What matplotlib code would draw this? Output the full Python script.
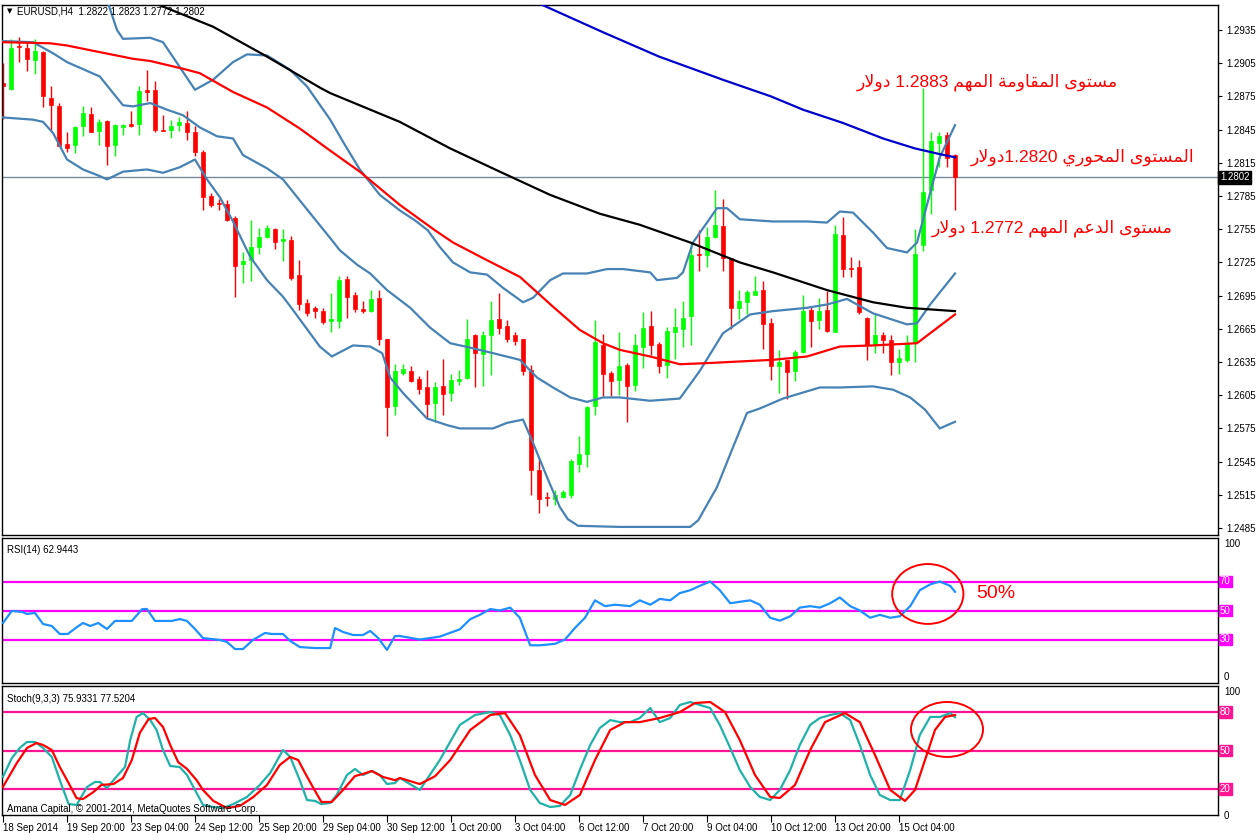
import re
import matplotlib
matplotlib.use("Agg")
import matplotlib.pyplot as plt
import matplotlib.transforms as mtransforms
from matplotlib.patches import Ellipse

plt.rcParams['font.family'] = ['Liberation Sans', 'DejaVu Sans']

# EURUSD H4 candles, 18 Sep 12:00 -> 16 Oct 08:00
opens = [1.2887, 1.2882, 1.2921, 1.2919, 1.2908, 1.2915, 1.2874, 1.2866, 1.2832, 1.2831,
         1.2848, 1.2859, 1.2844, 1.2853, 1.2831, 1.2847, 1.2850, 1.2850, 1.2881, 1.2881,
         1.2845, 1.2845, 1.2849, 1.2851, 1.2843, 1.2825, 1.2785, 1.2779, 1.2778, 1.2765,
         1.2724, 1.2727, 1.2739, 1.2748, 1.2755, 1.2744, 1.2745, 1.2714, 1.2688, 1.2684,
         1.2681, 1.2672, 1.2672, 1.2710, 1.2696, 1.2683, 1.2681, 1.2693, 1.2656, 1.2595,
         1.2625, 1.2627, 1.2620, 1.2612, 1.2598, 1.2613, 1.2607, 1.2618, 1.2621, 1.2659,
         1.2642, 1.2659, 1.2674, 1.2668, 1.2659, 1.2656, 1.2628, 1.2537, 1.2513, 1.2511,
         1.2513, 1.2515, 1.2543, 1.2552, 1.2595, 1.2650, 1.2625, 1.2619, 1.2632, 1.2614,
         1.2649, 1.2668, 1.2651, 1.2632, 1.2662, 1.2665, 1.2677, 1.2733, 1.2732, 1.2748,
         1.2758, 1.2729, 1.2684, 1.2689, 1.2696, 1.2700, 1.2670, 1.2631, 1.2637, 1.2627,
         1.2644, 1.2682, 1.2673, 1.2682, 1.2662, 1.2750, 1.2720, 1.2721, 1.2675, 1.2651,
         1.2659, 1.2655, 1.2635, 1.2637, 1.2652, 1.2741, 1.2790, 1.2833, 1.2840, 1.2822]
highs = [1.2905, 1.2927, 1.2929, 1.2925, 1.2927, 1.2916, 1.2884, 1.2869, 1.2843, 1.2848,
         1.2866, 1.2865, 1.2855, 1.2854, 1.2850, 1.2850, 1.2862, 1.2884, 1.2899, 1.2889,
         1.2858, 1.2854, 1.2856, 1.2862, 1.2848, 1.2827, 1.2788, 1.2782, 1.2781, 1.2767,
         1.2734, 1.2763, 1.2756, 1.2759, 1.2756, 1.2755, 1.2749, 1.2727, 1.2692, 1.2686,
         1.2684, 1.2697, 1.2713, 1.2713, 1.2698, 1.2690, 1.2700, 1.2700, 1.2656, 1.2633,
         1.2633, 1.2631, 1.2622, 1.2628, 1.2617, 1.2638, 1.2624, 1.2628, 1.2674, 1.2660,
         1.2663, 1.2690, 1.2697, 1.2673, 1.2662, 1.2656, 1.2632, 1.2547, 1.2518, 1.2519,
         1.2519, 1.2547, 1.2568, 1.2595, 1.2673, 1.2660, 1.2627, 1.2662, 1.2634, 1.2660,
         1.2680, 1.2681, 1.2653, 1.2667, 1.2684, 1.2690, 1.2743, 1.2754, 1.2757, 1.2790,
         1.2782, 1.2729, 1.2700, 1.2700, 1.2713, 1.2708, 1.2675, 1.2646, 1.2637, 1.2646,
         1.2696, 1.2686, 1.2693, 1.2699, 1.2759, 1.2766, 1.2730, 1.2727, 1.2676, 1.2678,
         1.2662, 1.2659, 1.2647, 1.2659, 1.2755, 1.2883, 1.2843, 1.2843, 1.2843, 1.2823]
lows = [1.2855, 1.2881, 1.2906, 1.2898, 1.2895, 1.2865, 1.2843, 1.2830, 1.2825, 1.2824,
        1.2839, 1.2843, 1.2831, 1.2813, 1.2821, 1.2840, 1.2847, 1.2840, 1.2871, 1.2843,
        1.2844, 1.2837, 1.2844, 1.2836, 1.2821, 1.2772, 1.2775, 1.2772, 1.2762, 1.2694,
        1.2706, 1.2708, 1.2733, 1.2747, 1.2737, 1.2726, 1.2709, 1.2682, 1.2677, 1.2675,
        1.2669, 1.2662, 1.2666, 1.2675, 1.2680, 1.2679, 1.2680, 1.2650, 1.2568, 1.2587,
        1.2623, 1.2617, 1.2606, 1.2584, 1.2581, 1.2587, 1.2600, 1.2614, 1.2620, 1.2612,
        1.2613, 1.2623, 1.2660, 1.2653, 1.2650, 1.2623, 1.2515, 1.2499, 1.2505, 1.2506,
        1.2512, 1.2512, 1.2536, 1.2540, 1.2587, 1.2604, 1.2604, 1.2605, 1.2581, 1.2609,
        1.2630, 1.2641, 1.2625, 1.2621, 1.2638, 1.2649, 1.2650, 1.2717, 1.2721, 1.2747,
        1.2717, 1.2665, 1.2674, 1.2678, 1.2696, 1.2647, 1.2619, 1.2607, 1.2602, 1.2618,
        1.2643, 1.2649, 1.2665, 1.2662, 1.2662, 1.2712, 1.2712, 1.2678, 1.2637, 1.2643,
        1.2643, 1.2623, 1.2624, 1.2635, 1.2635, 1.2735, 1.2769, 1.2811, 1.2811, 1.2772]
closes = [1.2884, 1.2919, 1.2920, 1.2909, 1.2916, 1.2875, 1.2867, 1.2830, 1.2828, 1.2847,
          1.2860, 1.2843, 1.2852, 1.2830, 1.2849, 1.2849, 1.2848, 1.2880, 1.2879, 1.2845,
          1.2844, 1.2848, 1.2852, 1.2843, 1.2825, 1.2784, 1.2777, 1.2778, 1.2763, 1.2722,
          1.2726, 1.2739, 1.2748, 1.2756, 1.2743, 1.2746, 1.2711, 1.2687, 1.2679, 1.2681,
          1.2671, 1.2674, 1.2709, 1.2694, 1.2683, 1.2681, 1.2692, 1.2656, 1.2594, 1.2627,
          1.2629, 1.2618, 1.2611, 1.2597, 1.2612, 1.2606, 1.2619, 1.2620, 1.2656, 1.2643,
          1.2659, 1.2673, 1.2666, 1.2656, 1.2654, 1.2627, 1.2537, 1.2511, 1.2512, 1.2515,
          1.2518, 1.2546, 1.2552, 1.2594, 1.2653, 1.2624, 1.2618, 1.2631, 1.2613, 1.2650,
          1.2666, 1.2650, 1.2631, 1.2663, 1.2667, 1.2675, 1.2732, 1.2732, 1.2748, 1.2759,
          1.2729, 1.2684, 1.2690, 1.2698, 1.2699, 1.2669, 1.2631, 1.2635, 1.2626, 1.2644,
          1.2681, 1.2672, 1.2681, 1.2663, 1.2751, 1.2719, 1.2719, 1.2680, 1.2650, 1.2659,
          1.2655, 1.2635, 1.2639, 1.2651, 1.2733, 1.2789, 1.2835, 1.2839, 1.2819, 1.2802]

# indicator lines: (bar index, value)
ma_blue = [(62, 1.2980), (67, 1.2959), (75, 1.2933), (82, 1.2911), (90, 1.2890), (96, 1.2875),
           (100, 1.2863), (105, 1.2851), (110, 1.2837), (114, 1.2828), (117, 1.2823), (119, 1.2820)]
ma_black = [(12, 1.2975), (18, 1.2962), (26.25, 1.2938), (32.75, 1.2912), (39.6, 1.2883), (40.9, 1.2878),
            (49.6, 1.2852), (55.9, 1.2828), (62.1, 1.2807), (68.4, 1.2786), (74.6, 1.2769), (79.6, 1.2759),
            (85.9, 1.2743), (92.1, 1.2725), (96.25, 1.2716), (103, 1.2700), (108.75, 1.2689), (113, 1.2684),
            (119, 1.2681)]
ma_red = [(0, 1.2924), (5.9, 1.2923), (8, 1.2921), (12.1, 1.2915), (16.25, 1.2909), (18.4, 1.2907),
          (22.5, 1.2900), (24.6, 1.2896), (28.75, 1.2879), (33, 1.2865), (37.1, 1.2846), (40.9, 1.2826),
          (44.6, 1.2807), (49.6, 1.2777), (54, 1.2754), (56.25, 1.2743), (60.5, 1.2727), (64.6, 1.2712),
          (68.75, 1.2685), (72.1, 1.2664), (75, 1.2652), (77.1, 1.2646), (80.9, 1.2640), (84.6, 1.2633),
          (88, 1.2634), (96.25, 1.2637), (100.5, 1.2640), (104.6, 1.2649), (108.75, 1.2650),
          (114.25, 1.2652), (119, 1.2678)]
bb_upper = [(11, 1.2998), (13, 1.2962), (14.25, 1.2935), (15, 1.2927), (18.4, 1.2928), (20, 1.2924),
            (24, 1.2881), (26.25, 1.2890), (28.75, 1.2906), (30.5, 1.2913), (33, 1.2912), (35.9, 1.2899),
            (38, 1.2884), (40.9, 1.2854), (42.75, 1.2831), (44.6, 1.2809), (47.1, 1.2786), (49.6, 1.2772),
            (51.5, 1.2763), (53.1, 1.2754), (54.6, 1.2739), (56.25, 1.2725), (58.4, 1.2716), (60.5, 1.2714),
            (62.5, 1.2702), (65, 1.2689), (66.25, 1.2693), (68.4, 1.2709), (70, 1.2715), (73, 1.2715),
            (75.5, 1.2719), (77.5, 1.2719), (80.9, 1.2716), (81.75, 1.2709), (84.25, 1.2711), (85, 1.2716),
            (86.25, 1.2743), (88, 1.2761), (89.25, 1.2774), (90.5, 1.2774), (92.1, 1.2764), (96.25, 1.2762),
            (100.5, 1.2762), (103, 1.2761), (104.6, 1.2771), (106.25, 1.2770), (108.75, 1.2752),
            (110.5, 1.2738), (113, 1.2734), (114.25, 1.2743), (115.9, 1.2788), (117.1, 1.2820), (119, 1.2849)]
bb_middle = [(0, 1.2925), (3.75, 1.2924), (6.25, 1.2914), (8, 1.2906), (12.1, 1.2893), (15, 1.2867),
             (16.25, 1.2866), (18.4, 1.2869), (20.5, 1.2863), (22.5, 1.2858), (24.6, 1.2847), (26.75, 1.2839),
             (28.75, 1.2837), (30, 1.2822), (33, 1.2810), (35, 1.2800), (37.1, 1.2781), (40.9, 1.2747),
             (42.1, 1.2736), (44.25, 1.2723), (45.9, 1.2715), (48, 1.2700), (50.9, 1.2684), (53.4, 1.2666),
             (55.9, 1.2652), (58.4, 1.2648), (61.25, 1.2643), (64.6, 1.2637), (66.75, 1.2621), (68.75, 1.2612),
             (70.9, 1.2603), (73, 1.2599), (75, 1.2603), (77.1, 1.2603), (80.9, 1.2600), (84.6, 1.2602),
             (87.1, 1.2627), (90, 1.2661), (93.4, 1.2678), (96.25, 1.2681), (100.5, 1.2684), (103, 1.2687),
             (105.5, 1.2692), (108.75, 1.2679), (113, 1.2669), (114.25, 1.2670), (115.9, 1.2687), (119, 1.2715)]
bb_lower = [(0, 1.2856), (3.75, 1.2854), (5, 1.2852), (6.25, 1.2842), (8, 1.2818), (10, 1.2809),
            (12.1, 1.2803), (13, 1.2800), (15, 1.2807), (18, 1.2809), (20, 1.2806), (22.1, 1.2811),
            (24, 1.2818), (25.5, 1.2800), (27.1, 1.2784), (28.75, 1.2762), (30.9, 1.2730), (33, 1.2709),
            (35, 1.2694), (36.25, 1.2682), (39.6, 1.2649), (41.1, 1.2640), (43.75, 1.2650), (45.9, 1.2649),
            (47.4, 1.2643), (48.4, 1.2621), (50, 1.2607), (53, 1.2584), (55.5, 1.2578), (57.1, 1.2575),
            (61.25, 1.2575), (63, 1.2580), (65, 1.2583), (66.25, 1.2562), (68, 1.2531), (69.6, 1.2504),
            (70.6, 1.2493), (71.9, 1.2487), (77.1, 1.2486), (85.9, 1.2486), (86.9, 1.2492), (89.25, 1.2522),
            (91.25, 1.2558), (93, 1.2589), (94.6, 1.2593), (97.5, 1.2602), (102.1, 1.2612), (104.6, 1.2612),
            (108.75, 1.2613), (111.25, 1.2610), (113.4, 1.2603), (115.25, 1.2592), (117.1, 1.2575),
            (119, 1.2581)]

rsi = [(0, 41.4), (1.1, 49.7), (2.4, 49), (3, 47.6), (4, 48.3), (5, 40.7), (6.1, 39.3), (7.1, 33.8),
       (8.1, 33.8), (9.25, 38.6), (10, 41.4), (10.9, 39.3), (11.9, 41.4), (13, 37.2), (14, 42.8),
       (16.1, 42.8), (17.4, 51), (18, 51), (19, 42.8), (21.1, 42.8), (22.1, 44.1), (23, 42.8), (24, 37.2),
       (25, 31), (27.1, 29.7), (28, 28.3), (29, 23.4), (30, 23.4), (31.25, 29.7), (32.75, 34.5),
       (33.6, 33.8), (35, 33.8), (35.9, 29), (37.1, 24.8), (39, 24.1), (40.9, 24.1), (41.5, 37.9),
       (42.5, 35.2), (43.75, 33.1), (45, 33.1), (45.9, 35.9), (46.9, 31), (48, 22.8), (49, 32.4),
       (49.6, 32.4), (52.1, 30), (54.6, 32), (57.1, 37), (58.4, 44), (59.6, 47), (60.9, 51), (62.1, 50),
       (63.4, 52), (64.6, 45), (65.9, 26), (67.1, 26), (69, 27), (70.25, 30), (71.5, 38), (72.75, 45),
       (74, 57), (75.25, 53), (76.5, 54), (78.4, 53), (79.6, 57), (80.9, 54), (82.1, 58), (83.4, 57),
       (84.6, 62), (85.9, 64), (87.1, 67), (88.4, 70), (89.6, 64), (90.9, 55), (92.1, 56), (93.4, 57),
       (94.6, 54), (95.9, 45), (97.1, 43), (98.4, 46), (99.6, 52), (100.9, 53), (102.1, 52), (103.4, 55),
       (104.6, 59), (105.9, 53), (107.1, 50), (108.4, 45), (109.6, 47), (110.9, 45), (112.1, 46),
       (113.4, 53), (114.6, 64), (115.9, 68), (117.1, 70), (118.4, 67), (119, 62.9)]

stoch_main = [(0, 29.7), (1.1, 44), (2.1, 52), (3, 56.6), (4, 56.6), (5, 52), (6.1, 45), (7.1, 27),
              (8.2, 8.5), (9.2, 7.8), (10.5, 21.7), (11.5, 25.6), (12.1, 25.6), (13, 20.9), (14, 28.4),
              (15.25, 37.2), (15.9, 58), (16.7, 76), (17.5, 79), (18.4, 73.6), (19.2, 65.9), (20, 50.4),
              (20.9, 38), (22.1, 37.2), (23, 31), (24, 19.4), (25, 7.8), (26.3, 6.2), (27.5, 5.4),
              (28.8, 8.5), (30.5, 14), (32.1, 23.3), (33.4, 32.6), (35, 50.4), (35.9, 45), (37.1, 27),
              (38, 11.6), (39, 10.9), (39.8, 8.5), (40.9, 9.3), (41.7, 15.5), (43, 31), (44, 35.7), (45, 31),
              (46.1, 34.1), (47.1, 31), (48, 24), (49, 24.8), (49.6, 28.7), (52.1, 19.4), (54.6, 42.6),
              (57.1, 69.8), (59, 77.5), (60.9, 79.8), (62.1, 77.5), (63.4, 62), (64.6, 42.6), (65.9, 19.4),
              (67.1, 9.3), (68.4, 6.2), (69.6, 7), (70.9, 15.5), (72.1, 34.9), (73.4, 54.3), (74.6, 67.4),
              (75.9, 73.6), (77.1, 72), (78.4, 72), (79.6, 75.2), (80.9, 82.9), (82.1, 72), (83.4, 75.2),
              (84.6, 85.3), (85.9, 87.6), (87.1, 85.3), (88.4, 82.9), (89.6, 69.8), (90.9, 52), (92.1, 34.9),
              (93.4, 21.7), (94.6, 14), (95.9, 11.6), (97.1, 19.4), (98.4, 34.9), (99.6, 54.3), (100.9, 69.8),
              (102.1, 75.2), (103.4, 77.5), (104.6, 79), (105.9, 73.6), (107.1, 54.3), (108.4, 31),
              (109.6, 15.5), (110.9, 11.6), (112.1, 11.6), (113.4, 34.9), (114.6, 62), (115.9, 76),
              (117.1, 76), (118.4, 79), (119, 75.9)]
stoch_signal = [(0, 21.9), (1.7, 40), (3, 52), (4.2, 55.8), (5, 54.3), (6.1, 50.4), (7.1, 37.2), (8.2, 24.8),
                (9.2, 13), (10, 12.4), (11.3, 17.8), (12.3, 23.3), (13.8, 24), (15, 28.7), (16.1, 42.6),
                (17.1, 63.6), (18.2, 74.4), (19, 75.2), (20, 68.2), (20.9, 54.3), (21.9, 41), (23, 35.7),
                (24.2, 27), (25, 19.4), (26.3, 10.9), (28, 5.4), (29.6, 7), (31.3, 14), (33, 23.3),
                (34.6, 38.8), (35.9, 45), (36.9, 42.6), (37.75, 32.6), (38.8, 20.9), (39.8, 10.1), (41.1, 10.1),
                (42.5, 19.4), (44, 30.2), (45, 31.8), (46.1, 34.1), (47.5, 29.5), (49, 27), (49.6, 28.7),
                (52.1, 24), (54, 30), (55.9, 42.6), (58.4, 65.9), (60.9, 77.5), (62.75, 79), (64.6, 62),
                (66.5, 31), (68.4, 11.6), (70.25, 7.8), (72.1, 15.5), (74, 42.6), (75.9, 65.9), (77.75, 72),
                (79.6, 72), (82.1, 75.2), (84.6, 79.8), (86.5, 86.8), (88.4, 87.6), (90.25, 79.8), (92.1, 58.1),
                (94, 31), (95.9, 14), (97.1, 13.2), (99, 23.3), (100.9, 50.4), (102.75, 72), (105.25, 79),
                (107.1, 72), (109, 46.5), (110.9, 19.4), (112.75, 10.9), (114, 19.4), (115.25, 42.6),
                (116.5, 65.9), (117.75, 76), (119, 77.5)]

price_ticks = [1.2935, 1.2905, 1.2875, 1.2845, 1.2815, 1.2785, 1.2755, 1.2725, 1.2695, 1.2665,
               1.2635, 1.2605, 1.2575, 1.2545, 1.2515, 1.2485]
date_ticks = [0, 8, 16, 24, 32, 40, 48, 56, 64, 72, 80, 88, 96, 104, 112]
date_labels = ["18 Sep 2014", "19 Sep 20:00", "23 Sep 04:00", "24 Sep 12:00", "25 Sep 20:00",
               "29 Sep 04:00", "30 Sep 12:00", "1 Oct 20:00", "3 Oct 04:00", "6 Oct 12:00",
               "7 Oct 20:00", "9 Oct 04:00", "10 Oct 12:00", "13 Oct 20:00", "15 Oct 04:00"]
last_price = 1.2802

note_resist = "مستوى المقاومة المهم 1.2883 دولار"
note_pivot = "المستوى المحوري 1.2820دولار"
note_support = "مستوى الدعم المهم 1.2772 دولار"

# --- arabic shaping by hand (matplotlib has no bidi / joining) ---
FORMS = {
    '\u0627': ('\uFE8D', '\uFE8E'), '\u0629': ('\uFE93', '\uFE94'), '\u062F': ('\uFEA9', '\uFEAA'),
    '\u0631': ('\uFEAD', '\uFEAE'), '\u0648': ('\uFEED', '\uFEEE'), '\u0649': ('\uFEEF', '\uFEF0'),
    '\u062A': ('\uFE95', '\uFE96', '\uFE97', '\uFE98'), '\u062D': ('\uFEA1', '\uFEA2', '\uFEA3', '\uFEA4'),
    '\u0633': ('\uFEB1', '\uFEB2', '\uFEB3', '\uFEB4'), '\u0639': ('\uFEC9', '\uFECA', '\uFECB', '\uFECC'),
    '\u0642': ('\uFED5', '\uFED6', '\uFED7', '\uFED8'), '\u0644': ('\uFEDD', '\uFEDE', '\uFEDF', '\uFEE0'),
    '\u0645': ('\uFEE1', '\uFEE2', '\uFEE3', '\uFEE4'), '\u0647': ('\uFEE9', '\uFEEA', '\uFEEB', '\uFEEC'),
    '\u064A': ('\uFEF1', '\uFEF2', '\uFEF3', '\uFEF4'),
}


def shape_word(w):
    out = []
    i = 0
    prev_joins = False
    while i < len(w):
        c = w[i]
        nxt = w[i + 1] if i + 1 < len(w) else None
        if c == '\u0644' and nxt == '\u0627':
            out.append('\uFEFC' if prev_joins else '\uFEFB')
            prev_joins = False
            i += 2
            continue
        f = FORMS[c]
        joins_next = len(f) == 4 and nxt in FORMS
        if prev_joins and joins_next:
            g = f[3]
        elif prev_joins:
            g = f[1]
        elif joins_next:
            g = f[2]
        else:
            g = f[0]
        out.append(g)
        prev_joins = joins_next
        i += 1
    return ''.join(reversed(out))


def visual(s):
    runs = re.findall(r'[\u0600-\u06FF]+|[^\u0600-\u06FF ]+| ', s)
    return ''.join(shape_word(r) if re.match(r'[\u0600-\u06FF]', r) else r for r in reversed(runs))


W, H = 1258, 835
fig = plt.figure(figsize=(W / 100, H / 100), dpi=100)
fig.patch.set_facecolor('white')


def panel(x0, y0, x1, y1):
    ax = fig.add_axes([x0 / W, 1 - y1 / H, (x1 - x0) / W, (y1 - y0) / H])
    ax.set_xlim(-0.125, 151.875)
    for s in ax.spines.values():
        s.set_color('black')
        s.set_linewidth(1)
    ax.tick_params(left=False, labelleft=False, bottom=False, labelbottom=False)
    return ax


def line(ax, pts, color, lw=1.6, z=3):
    xs, ys = zip(*pts)
    ax.plot(xs, ys, color=color, lw=lw, zorder=z, solid_joinstyle='round')


# ---------------- main price panel ----------------
ax = panel(2, 5, 1218, 535)
ax.set_ylim(1.24787, 1.29576)

n = len(opens)
cols = ['#00FF00' if closes[i] > opens[i] else '#FF0000' for i in range(n)]
ax.vlines(range(n), lows, highs, colors=cols, lw=1, zorder=2)
bottoms = [min(opens[i], closes[i]) for i in range(n)]
heights = [max(abs(closes[i] - opens[i]), 0.00003) for i in range(n)]
ax.bar(range(n), heights, bottom=bottoms, width=0.62, color=cols, edgecolor=cols, lw=0.5, zorder=2)

line(ax, bb_upper, '#4682B4')
line(ax, bb_middle, '#4682B4')
line(ax, bb_lower, '#4682B4')
line(ax, ma_red, '#FF0000')
line(ax, ma_black, '#000000')
line(ax, ma_blue, '#0000CD')

ax.axhline(last_price, color='#778899', lw=1, zorder=1)

ax.yaxis.tick_right()
ax.set_yticks(price_ticks)
ax.set_yticklabels([f'{v:.4f}' for v in price_ticks])
ax.tick_params(axis='y', right=True, labelright=True, direction='out', length=3, labelsize=7, pad=3)

tr = mtransforms.blended_transform_factory(ax.transAxes, ax.transData)
ax.text(1.0015, last_price, f'{last_price:.4f}', transform=tr, ha='left', va='center', fontsize=7,
        color='white', bbox=dict(boxstyle='square,pad=0.15', fc='black', ec='black'))

fig.text(10 / W, 1 - 11 / H, '\u25BC', fontsize=5, ha='center', va='center', family='DejaVu Sans')
fig.text(17 / W, 1 - 11 / H, 'EURUSD,H4  1.2822 1.2823 1.2772 1.2802', fontsize=7, ha='left', va='center')

ar_font = ['Liberation Sans', 'DejaVu Sans']
fig.text(987 / W, 1 - 82 / H, visual(note_resist), color='red', fontsize=12.5, ha='center', va='center',
         family=ar_font)
fig.text(1083 / W, 1 - 157 / H, visual(note_pivot), color='red', fontsize=12.5, ha='center', va='center',
         family=ar_font)
fig.text(1052 / W, 1 - 228 / H, visual(note_support), color='red', fontsize=12.5, ha='center', va='center',
         family=ar_font)

# ---------------- RSI panel ----------------
ax2 = panel(2, 538, 1218, 683)
ax2.set_ylim(0, 100)
for lv in (70, 50, 30):
    ax2.axhline(lv, color='#FF00FF', lw=1.6, zorder=1)
line(ax2, rsi, '#1E90FF')
tr2 = mtransforms.blended_transform_factory(ax2.transAxes, ax2.transData)
ax2.text(1.005, 99, '100', transform=tr2, ha='left', va='top', fontsize=7)
ax2.text(1.005, 1, '0', transform=tr2, ha='left', va='bottom', fontsize=7)
for lv in (70, 50, 30):
    ax2.text(1.0015, lv, str(lv), transform=tr2, ha='left', va='center', fontsize=7, color='white',
             bbox=dict(boxstyle='square,pad=0.1', fc='#FF00FF', ec='#FF00FF'))
ax2.text(0.004, 0.95, 'RSI(14) 62.9443', transform=ax2.transAxes, ha='left', va='top', fontsize=7)
ax2.add_patch(Ellipse((115.6, 61.4), 8.9, 41.3, fill=False, ec='red', lw=1.4, zorder=5))
ax2.text(121.6, 61.4, '50%', color='red', fontsize=14, ha='left', va='center')

# ---------------- Stochastic panel ----------------
ax3 = panel(2, 686, 1218, 815)
ax3.set_ylim(0, 100)
for lv in (80, 50, 20):
    ax3.axhline(lv, color='#FF1493', lw=1.6, zorder=1)
line(ax3, stoch_main, '#20B2AA')
line(ax3, stoch_signal, '#FF0000')
tr3 = mtransforms.blended_transform_factory(ax3.transAxes, ax3.transData)
ax3.text(1.005, 99, '100', transform=tr3, ha='left', va='top', fontsize=7)
ax3.text(1.005, -1, '0', transform=tr3, ha='left', va='center', fontsize=7)
for lv in (80, 50, 20):
    ax3.text(1.0015, lv, str(lv), transform=tr3, ha='left', va='center', fontsize=7, color='white',
             bbox=dict(boxstyle='square,pad=0.1', fc='#FF1493', ec='#FF1493'))
ax3.text(0.004, 0.94, 'Stoch(9,3,3) 75.9331 77.5204', transform=ax3.transAxes, ha='left', va='top', fontsize=7)
ax3.text(0.004, 0.05, 'Amana Capital, \u00A9 2001-2014, MetaQuotes Software Corp.', transform=ax3.transAxes,
         ha='left', va='center', fontsize=7)
ax3.add_patch(Ellipse((118, 66.3), 9, 42.6, fill=False, ec='red', lw=1.4, zorder=5))

ax3.set_xticks(date_ticks)
ax3.set_xticklabels(date_labels)
ax3.tick_params(axis='x', bottom=True, labelbottom=True, direction='out', length=5, labelsize=7, pad=1)
for lab in ax3.get_xticklabels():
    lab.set_ha('left')

fig.savefig('out.png', dpi=100, facecolor='white')
